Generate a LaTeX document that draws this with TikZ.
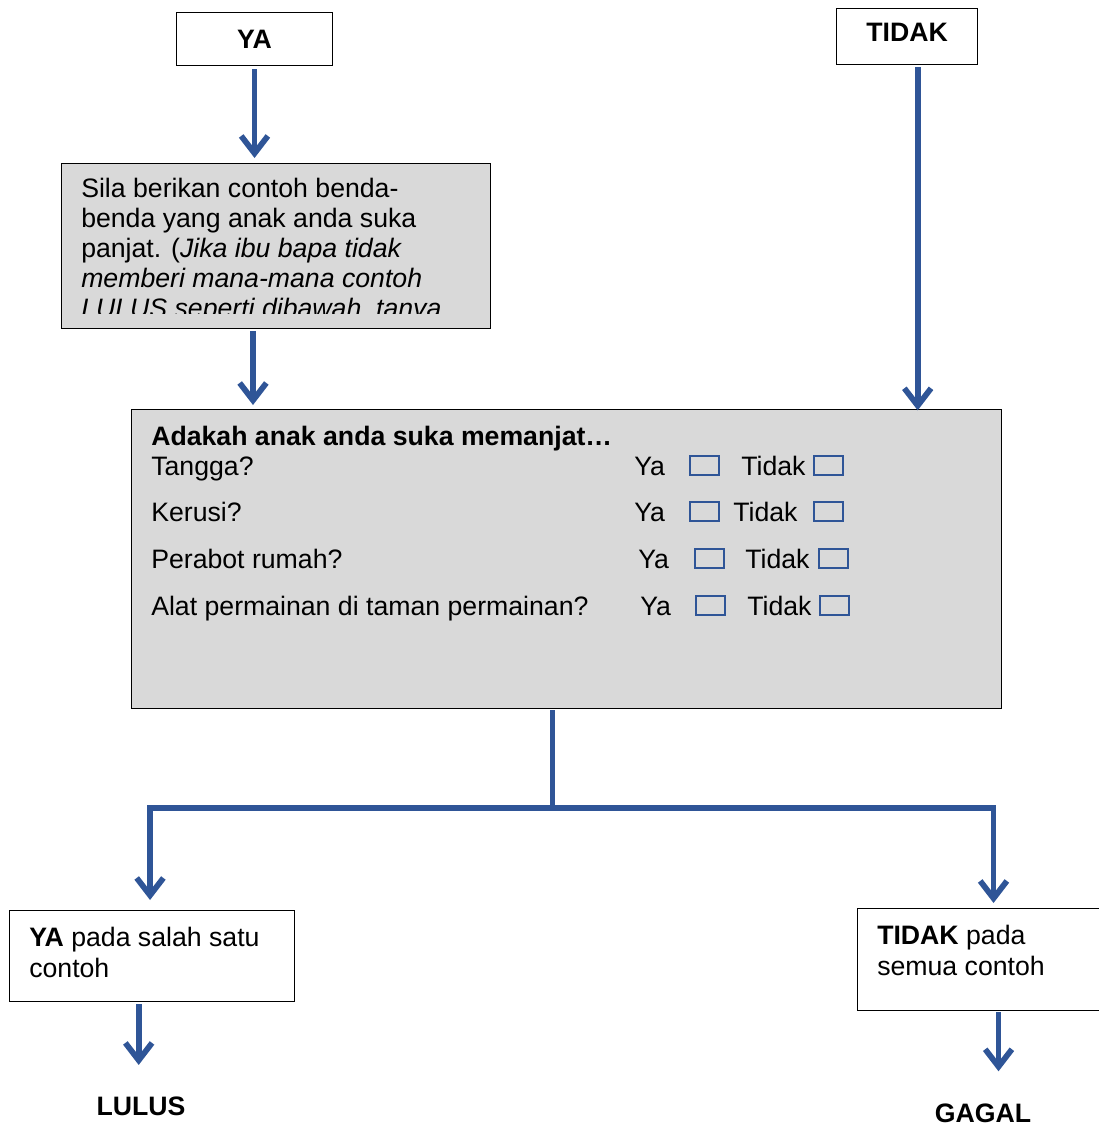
\documentclass[tikz,border=0pt]{standalone}
\usepackage{fontspec}
\setmainfont{Liberation Sans}
\usetikzlibrary{arrows.meta,calc}
\definecolor{flowblue}{RGB}{47,85,151}
\definecolor{boxgray}{RGB}{217,217,217}

\begin{document}
\begin{tikzpicture}[x=0.75pt,y=-0.75pt,
  box/.style={draw=black, line width=0.8pt, inner sep=0pt, anchor=north west,
    font=\fontsize{20}{22.5}\selectfont\bfseries},
  graybox/.style={box, fill=boxgray},
  flow/.style={draw=flowblue, line width=4.3pt,
    -{Straight Barb[length=13pt,width=20pt,line width=4.3pt]}},
  link/.style={draw=flowblue, line width=4.3pt},
  txt/.style={font=\fontsize{20}{22.5}\selectfont, inner sep=0pt, anchor=base west},
  itx/.style={txt, font=\fontsize{20}{22.5}\selectfont\itshape},
  btx/.style={txt, font=\fontsize{20}{22.5}\selectfont\bfseries},
  endword/.style={inner sep=0pt, font=\fontsize{20}{22.5}\selectfont\bfseries},
  chk/.style={draw=flowblue, line width=1.5pt, minimum width=21.75pt,
    minimum height=14.6pt, inner sep=0pt, anchor=north west}]

\useasboundingbox (0,0) rectangle (1099,1128);

% start boxes
\node[box, minimum width=117pt, minimum height=39.75pt] (ya) at (176,12) {YA};
\node[box, minimum width=105.75pt, minimum height=42pt, text depth=6pt] (tidak) at (836,8) {TIDAK};

% first question box, text cut off at the lower edge
\node[graybox, minimum width=321.75pt, minimum height=123.75pt] (q1) at (61,163) {};
\begin{scope}
  \clip ([xshift=1pt,yshift=-1pt]q1.north west) rectangle ([xshift=-1pt,yshift=12pt]q1.south east);
  \node[txt] (q1a) at (81,197) {Sila berikan contoh benda-};
  \node[txt] (q1b) at (81,227) {benda yang anak anda suka};
  \node[txt] (q1c) at (81,257) {panjat. (\textit{Jika ibu bapa tidak}};
  \node[itx] (q1d) at (81,287) {memberi mana-mana contoh};
  \node[itx] (q1e) at (81,317) {LULUS seperti dibawah, tanya};
\end{scope}

% second question box
\node[graybox, minimum width=652.5pt, minimum height=224.25pt] (q2) at (131,409) {};
\node[btx] (head) at (151,445) {Adakah anak anda suka memanjat…};
\node[txt] (r1) at (151,475) {Tangga?};
\node[txt] (r2) at (151,521) {Kerusi?};
\node[txt] (r3) at (151,568) {Perabot rumah?};
\node[txt] (r4) at (151,615) {Alat permainan di taman permainan?};

\node[txt] (y1) at (634,475) {Ya};
\node[txt] (y2) at (634,521) {Ya};
\node[txt] (y3) at (638,568) {Ya};
\node[txt] (y4) at (640,615) {Ya};
\node[txt] (t1) at (741,475) {Tidak};
\node[txt] (t2) at (733,521) {Tidak};
\node[txt] (t3) at (745,568) {Tidak};
\node[txt] (t4) at (747,615) {Tidak};

\node[chk] (cy1) at (689,455) {};
\node[chk] (cy2) at (689,501) {};
\node[chk] (cy3) at (694,548) {};
\node[chk] (cy4) at (695,595) {};
\node[chk] (ct1) at (813,455) {};
\node[chk] (ct2) at (813,501) {};
\node[chk] (ct3) at (818,548) {};
\node[chk] (ct4) at (819,595) {};

% result boxes
\node[box, minimum width=213.75pt, minimum height=68.25pt] (resL) at (9,910) {};
\node[txt] (resLa) at (29,946) {\textbf{YA} pada salah satu};
\node[txt] (resLb) at (29,977) {contoh};
\node[box, minimum width=186pt, minimum height=76.5pt] (resR) at (857,908) {};
\node[txt] (resRa) at (877,944) {\textbf{TIDAK} pada};
\node[txt] (resRb) at (877,975) {semua contoh};

\node[endword] (lulus) at (141,1106) {LULUS};
\node[endword] (gagal) at (983,1113) {GAGAL};

% connectors
\draw[flow] ([yshift=-2.25pt]ya.south) -- ([yshift=3.75pt]ya.south |- q1.north);
\draw[flow] ([xshift=144pt,yshift=-1.5pt]q1.south west) -- ([xshift=144pt,yshift=3pt]q1.south west |- q2.north);
\draw[flow] ([xshift=8pt,yshift=-1.5pt]tidak.south) -- ([xshift=8pt,yshift=-1pt]tidak.south |- q2.north);

\coordinate (split) at ([xshift=-10.5pt]q2.south |- resL.north);
\coordinate (jM) at ([yshift=76.5pt]split);
\draw[link] ([xshift=-10.5pt,yshift=-1pt]q2.south) -- (jM);
\draw[flow, line join=miter] (jM) -| ([xshift=-1.5pt,yshift=7.5pt]resL.north);
\draw[flow, line join=miter] (jM) -| ([xshift=9pt,yshift=3.75pt]resR.north);

\draw[flow] ([xshift=-10pt,yshift=-1.5pt]resL.south) -- ([xshift=-10pt,yshift=23.5pt]resL.south |- lulus.north);
\draw[flow] ([xshift=12.75pt,yshift=-1pt]resR.south) -- ([xshift=12.75pt,yshift=24pt]resR.south |- gagal.north);
\end{tikzpicture}
\end{document}
